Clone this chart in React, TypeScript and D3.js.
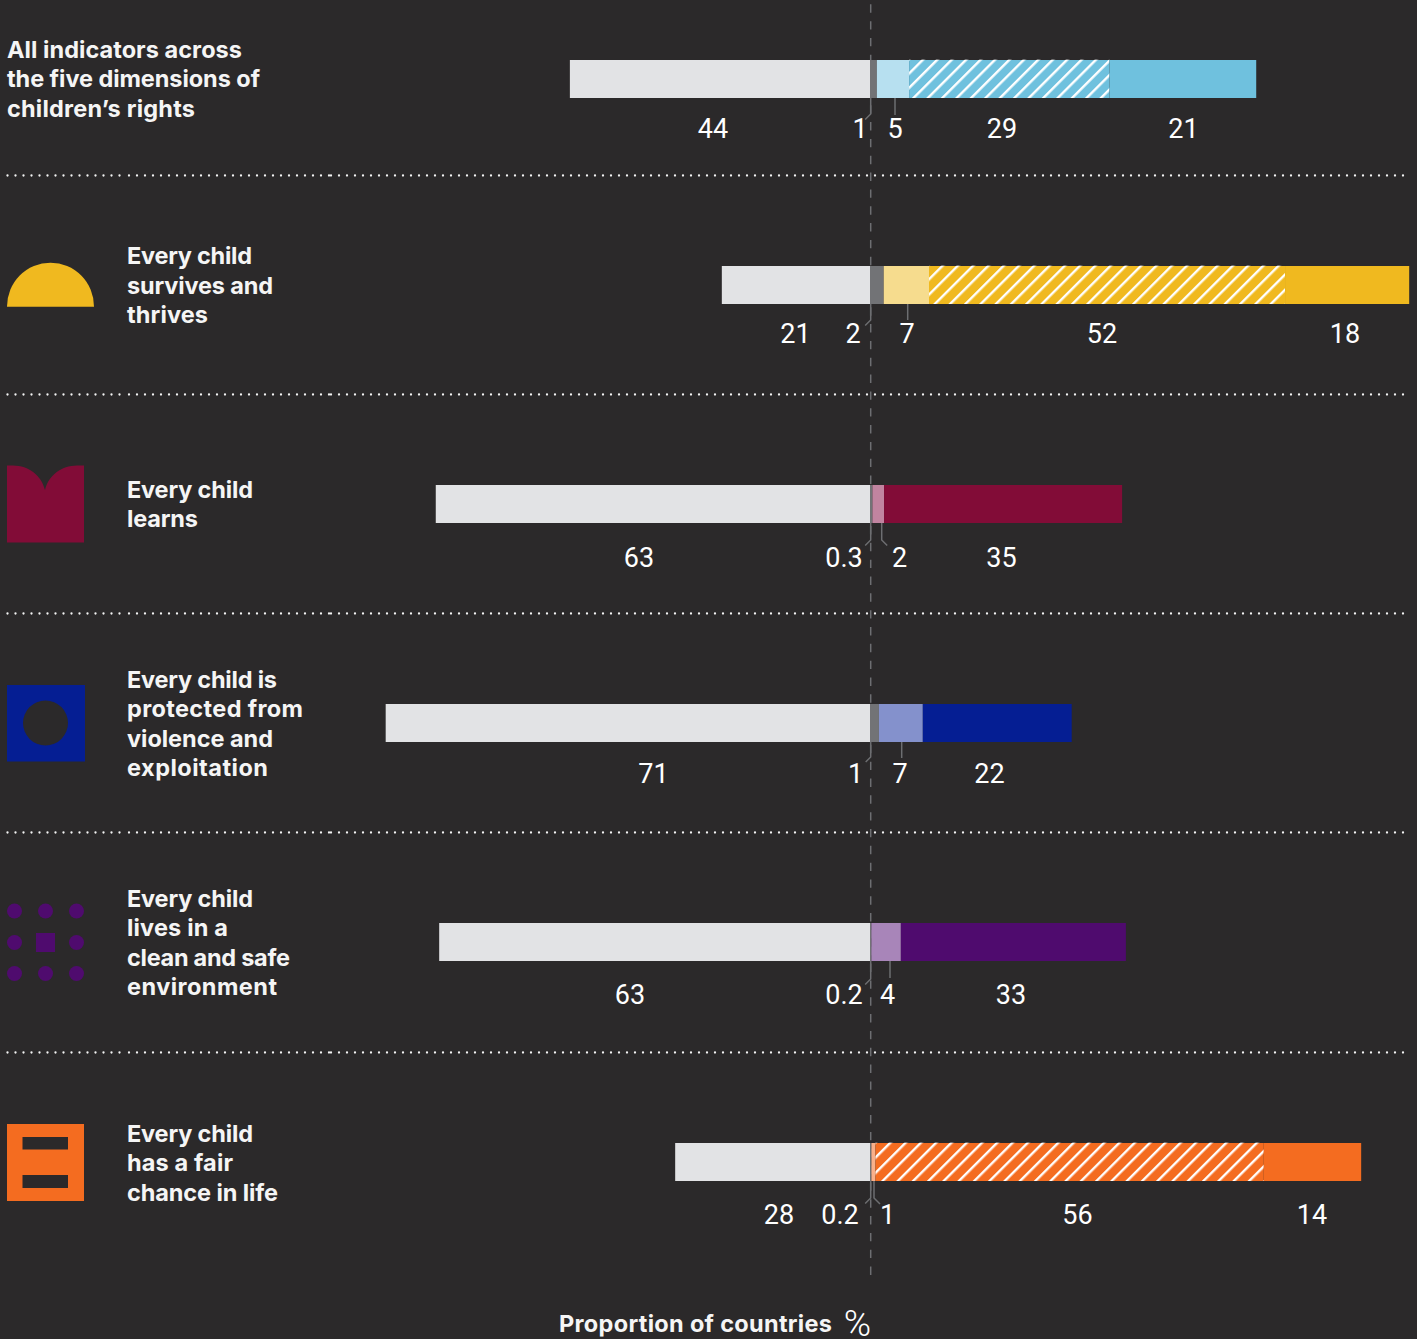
import React from "react";
import * as d3 from "d3";

const WIDTH = 1417;
const HEIGHT = 1339;

// Series: share of countries per status, most decimals
const categoryLines = [
  ["All indicators across", "the five dimensions of", "children’s rights"],
  ["Every child", "survives and", "thrives"],
  ["Every child", "learns"],
  ["Every child is", "protected from", "violence and", "exploitation"],
  ["Every child", "lives in a", "clean and safe", "environment"],
  ["Every child", "has a fair", "chance in life"],
];
const notAssessed = [43.75, 21.6, 63.3, 70.6, 62.8, 28.4];
const regressing = [1.0, 2.0, 0.35, 1.3, 0.2, 0.2];
const partial = [4.7, 6.6, 1.7, 6.4, 4.3, 0.6];
const hatched = [29.2, 51.9, 0, 0, 0, 56.6];
const achieved = [21.4, 18.1, 34.7, 21.7, 32.8, 14.2];

const valueLabels = [
  ["44", "1", "5", "29", "21"],
  ["21", "2", "7", "52", "18"],
  ["63", "0.3", "2", "35"],
  ["71", "1", "7", "22"],
  ["63", "0.2", "4", "33"],
  ["28", "0.2", "1", "56", "14"],
];
const axisTitle = "Proportion of countries";

// Styles and layout
const baseColors = ["#6fc1de", "#f0b91f", "#820c37", "#051e93", "#4f0b6e", "#f46c20"];
const lightColors = ["#b7e0f0", "#f6dc8e", "#c184a0", "#8491cc", "#a885b9", "#f9b08a"];
const BG = "#2b292a";
const GREY = "#e2e3e5";
const DARK = "#727376";
const LINE = "#6d6e71";
const barTops = [60, 266, 485, 704, 923, 1143];
const BAR_H = 38;
const separators = [175.5, 394.5, 613.5, 832.5, 1052.5];
const labelBaselines = [137.6, 342.6, 566.6, 782.6, 1003.6, 1223.6];
const labelXs = [
  [713, 860, 895, 1002, 1183.5],
  [795.5, 853, 907, 1102, 1345],
  [639, 844, 899.5, 1001.5],
  [653.5, 855.5, 900, 989.5],
  [630, 844, 887.5, 1011],
  [779, 840, 887.5, 1077.5, 1312],
];
const textX = [7, 127, 127, 127, 127, 127];
const textFirstBaseline = [58, 264.4, 498, 688, 907, 1142];
const LINE_GAP = 29.4;
const textWidths = [
  [235, 253, 188],
  [125, 146, 81],
  [126, 71],
  [150, 176, 146, 141],
  [126, 101, 163, 150],
  [126, 106, 151],
];
const hatchPeriods = [10.2, 10.8, 10.8, 10.8, 10.8, 10.8];
const HATCH_STROKE = 2.4;
// leader: [x at the bar, vertical drop, horizontal kink at the end]
const leaders = [
  [[870.7, 16, -5.5], [895, 17, 0]],
  [[870.7, 16, -5.5], [907.7, 16, 0]],
  [[870.7, 17, -5.5], [881.7, 17, 5.5]],
  [[870.7, 15, -5], [901.7, 16, 0]],
  [[870.7, 18, -5.5], [890, 17, 0]],
  [[870.7, 17, -5.5], [874, 17, 6]],
];

const x = d3.scaleLinear().domain([0, 1]).range([870, 876.86]);

const Dotted = ({ y }: { y: number }) => (
  <g stroke="#f4f4f4" strokeWidth={2.3} strokeLinecap="round" strokeDasharray="0 8">
    <line x1={7.5} x2={127} y1={y} y2={y} />
    <line x1={129} x2={330} y1={y} y2={y} />
    <line x1={331} x2={1408} y1={y} y2={y} />
  </g>
);

const Icons = () => (
  <g>
    <path d="M7 306.7 A43.5 44 0 0 1 94 306.7 Z" fill={baseColors[1]} />
    <path
      d="M7 465.6 H13 C29 466 41 475 45 490 C49 475 61 466 77 465.6 H84 V542.5 H7 Z"
      fill={baseColors[2]}
    />
    <rect x={7} y={685} width={78} height={76.5} fill={baseColors[3]} />
    <circle cx={45.5} cy={723} r={22.5} fill={BG} />
    <g fill={baseColors[4]}>
      {[14.5, 45.5, 76.5].flatMap((cx) =>
        [911, 942.5, 973.5].map((cy) =>
          cx === 45.5 && cy === 942.5 ? (
            <rect key="c" x={36} y={933} width={19} height={19} />
          ) : (
            <circle key={`${cx}-${cy}`} cx={cx} cy={cy} r={7.5} />
          )
        )
      )}
    </g>
    <rect x={7} y={1124} width={77} height={77} fill={baseColors[5]} />
    <rect x={22.5} y={1137} width={45.5} height={12.5} fill={BG} />
    <rect x={22.5} y={1175} width={45.5} height={13} fill={BG} />
  </g>
);

export default function App() {
  return (
    <svg
      width={WIDTH}
      height={HEIGHT}
      style={{ position: "absolute", left: 0, top: 0, background: BG, display: "block" }}
    >
      <defs>
        {hatchPeriods.map((p, i) => (
          <pattern
            key={i}
            id={`hatch${i}`}
            width={p}
            height={p}
            patternUnits="userSpaceOnUse"
            patternTransform="rotate(45)"
          >
            <rect x={0} y={0} width={HATCH_STROKE} height={p} fill="#ffffff" />
          </pattern>
        ))}
      </defs>
      <rect width={WIDTH} height={HEIGHT} fill={BG} />

      {separators.map((y) => (
        <Dotted key={y} y={y} />
      ))}

      <line x1={870.7} x2={870.7} y1={4.3} y2={1276} stroke={LINE} strokeWidth={1.5} strokeDasharray="8.4 8.43" />

      {barTops.map((top, i) => {
        const zero = x(0);
        const leftEdge = x(-notAssessed[i]);
        const stops = [regressing[i], partial[i], hatched[i], achieved[i]];
        const cum = d3.cumsum(stops);
        const fills = [DARK, lightColors[i], baseColors[i], baseColors[i]];
        return (
          <g key={i}>
            <rect x={leftEdge} y={top} width={zero - leftEdge} height={BAR_H} fill={GREY} />
            {stops.map((v, j) => {
              const start = x(j === 0 ? 0 : cum[j - 1]);
              const w = x(cum[j]) - start;
              if (w <= 0) return null;
              return (
                <g key={j}>
                  <rect x={start} y={top} width={w} height={BAR_H} fill={fills[j]} />
                  {j === 2 && (
                    <>
                      <rect x={start} y={top} width={w} height={BAR_H} fill={`url(#hatch${i})`} />
                      <rect x={start} y={top - 1} width={w} height={1} fill={`url(#hatch${i})`} opacity={0.35} />
                    </>
                  )}
                </g>
              );
            })}
            {leaders[i].map(([lx, drop, kink], j) => {
              const y0 = top + BAR_H;
              const d = d3.path();
              d.moveTo(lx, y0);
              d.lineTo(lx, y0 + drop);
              if (kink) d.lineTo(lx + kink, y0 + drop + Math.abs(kink));
              return <path key={j} d={d.toString()} fill="none" stroke={LINE} strokeWidth={1.5} />;
            })}
            {valueLabels[i].map((t, j) => (
              <text
                key={j}
                x={labelXs[i][j]}
                y={labelBaselines[i]}
                textAnchor="middle"
                fontFamily="Roboto, sans-serif"
                fontSize={27}
                fill="#ffffff"
              >
                {t}
              </text>
            ))}
            {categoryLines[i].map((t, j) => (
              <text
                key={j}
                x={textX[i]}
                y={textFirstBaseline[i] + j * LINE_GAP}
                fontFamily="Inter, sans-serif"
                fontWeight={700}
                fontSize={23.5}
                fill="#f5f5f5"
                textLength={textWidths[i][j]}
                lengthAdjust="spacing"
              >
                {t}
              </text>
            ))}
          </g>
        );
      })}

      <Icons />

      <text
        x={559}
        y={1332}
        fontFamily="Inter, sans-serif"
        fontWeight={700}
        fontSize={23.5}
        fill="#f5f5f5"
        textLength={273}
        lengthAdjust="spacing"
      >
        {axisTitle}
      </text>
      <text x={871} y={1336} textAnchor="end" fontFamily="Roboto, sans-serif" fontSize={37} fontWeight={300} fill="#ffffff">
        %
      </text>
    </svg>
  );
}
